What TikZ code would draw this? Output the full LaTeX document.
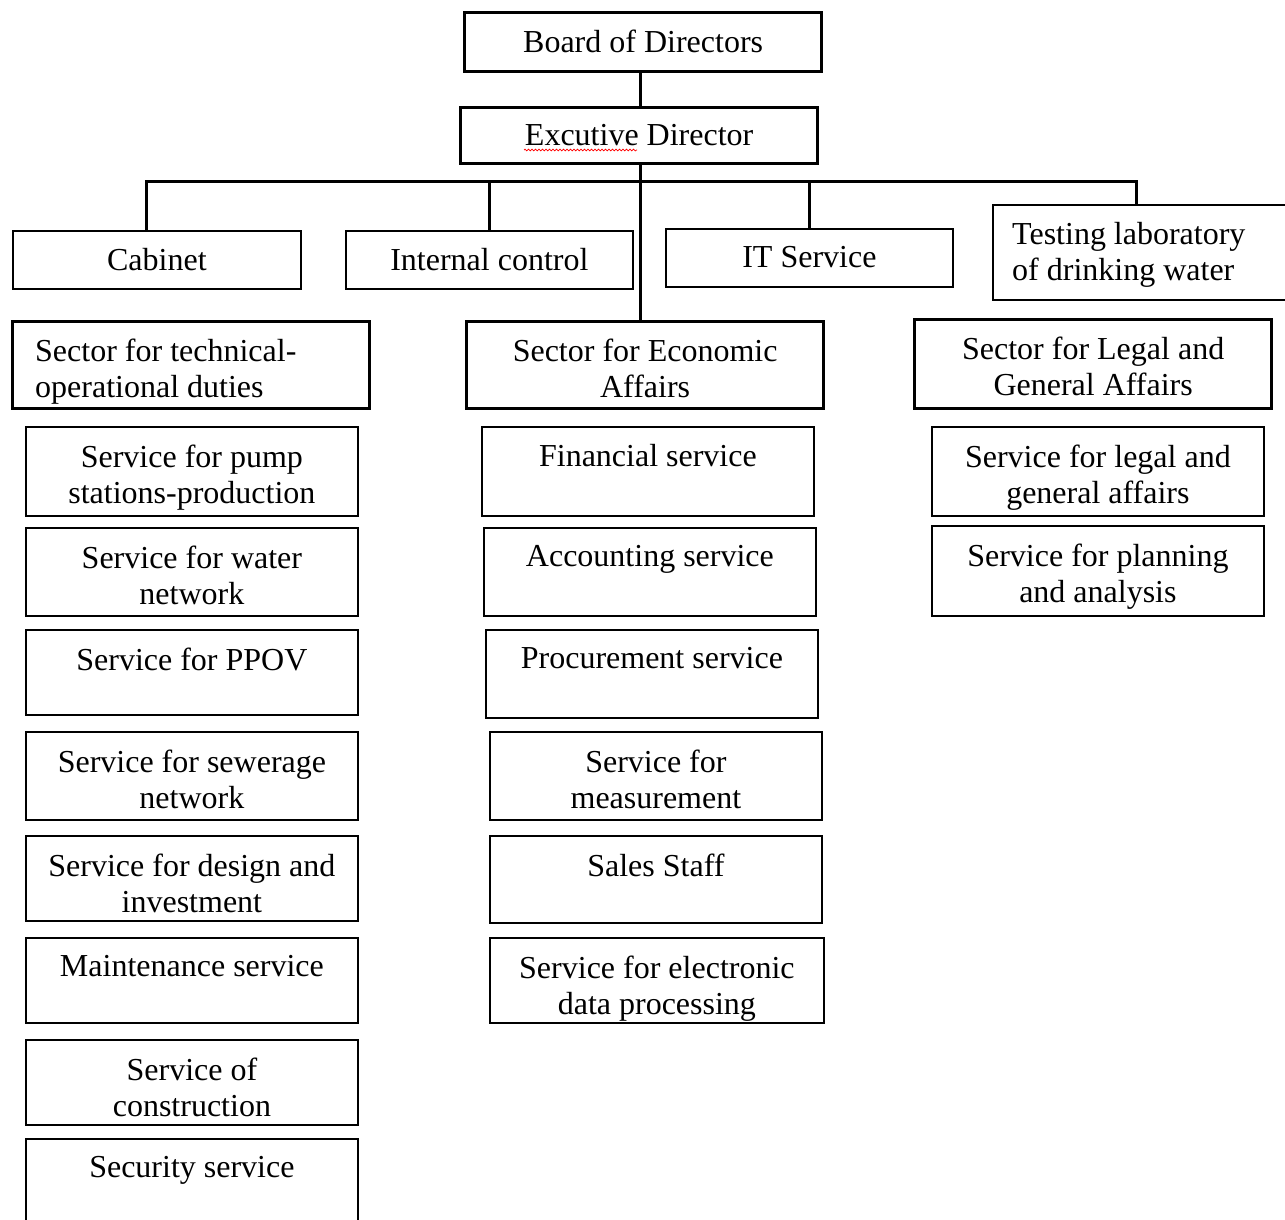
\documentclass[tikz,border=0pt]{standalone}
\usepackage{fontspec}
\setmainfont{Liberation Serif}
\usetikzlibrary{decorations.pathmorphing}

\begin{document}
\begin{tikzpicture}[x=1pt, y=-1pt,
    font=\fontsize{32}{36}\selectfont,
    unit/.style={draw, line width=1.8pt, anchor=north west, inner sep=0pt},
    sector/.style={unit, line width=3.3pt},
    lbl/.style={anchor=north, yshift=-18.5pt, inner sep=0pt, align=center},
    lbll/.style={anchor=north west, yshift=-18.5pt, inner sep=0pt, align=left},
    link/.style={line width=3pt}]
            \useasboundingbox (0,0) rectangle (1285,1220);
            \clip (0,0) rectangle (1285,1220);
            % top of the chart
            \node[sector, minimum width=357pt, minimum height=59pt, label={[lbl]north:Board of Directors}] (board) at (463,11) {};
            \node[sector, minimum width=357pt, minimum height=56pt, label={[lbl]north:Excutive Director}] (exec) at (459,106) {};
            \draw [red, line width=0.7pt, decorate, decoration={snake, amplitude=0.9pt, segment length=3.5pt}] (524,150) -- (637,150);
            % staff units
            \node[unit, minimum width=288pt, minimum height=58pt, label={[lbl]north:Cabinet}] (cabinet) at (12,230) {};
            \node[unit, minimum width=287pt, minimum height=58pt, label={[lbl]north:Internal control}] (intctrl) at (345,230) {};
            \node[unit, minimum width=287pt, minimum height=58pt, label={[lbl]north:IT Service}] (itserv) at (665,228) {};
            \node[unit, minimum width=320pt, minimum height=95pt, label={[lbll, xshift=20pt]north west:Testing laboratory\\of drinking water}] (testlab) at (992,204) {};
            % sectors
            \node[sector, minimum width=357pt, minimum height=87pt, label={[lbll, xshift=24pt]north west:Sector for technical-\\operational duties}] (sectech) at (11,320) {};
            \node[sector, minimum width=357pt, minimum height=87pt, label={[lbl]north:Sector for Economic\\Affairs}] (sececon) at (465,320) {};
            \node[sector, minimum width=357pt, minimum height=89pt, label={[lbl]north:Sector for Legal and\\General Affairs}] (seclegal) at (913,318) {};
            % technical services
            \node[unit, minimum width=332pt, minimum height=89pt, label={[lbl]north:Service for pump\\stations-production}] (pump) at (25,426) {};
            \node[unit, minimum width=332pt, minimum height=88pt, label={[lbl]north:Service for water\\network}] (water) at (25,527) {};
            \node[unit, minimum width=332pt, minimum height=85pt, label={[lbl]north:Service for PPOV}] (ppov) at (25,629) {};
            \node[unit, minimum width=332pt, minimum height=88pt, label={[lbl]north:Service for sewerage\\network}] (sewer) at (25,731) {};
            \node[unit, minimum width=332pt, minimum height=85pt, label={[lbl]north:Service for design and\\investment}] (design) at (25,835) {};
            \node[unit, minimum width=332pt, minimum height=85pt, label={[lbl]north:Maintenance service}] (maint) at (25,937) {};
            \node[unit, minimum width=332pt, minimum height=85pt, label={[lbl]north:Service of\\construction}] (constr) at (25,1039) {};
            \node[unit, minimum width=332pt, minimum height=100pt, label={[lbl]north:Security service}] (secur) at (25,1138) {};
            % economic services
            \node[unit, minimum width=332pt, minimum height=89pt, label={[lbl]north:Financial service}] (fin) at (481,426) {};
            \node[unit, minimum width=332pt, minimum height=88pt, label={[lbl]north:Accounting service}] (acc) at (483,527) {};
            \node[unit, minimum width=332pt, minimum height=88pt, label={[lbl]north:Procurement service}] (proc) at (485,629) {};
            \node[unit, minimum width=332pt, minimum height=88pt, label={[lbl]north:Service for\\measurement}] (meas) at (489,731) {};
            \node[unit, minimum width=332pt, minimum height=87pt, label={[lbl]north:Sales Staff}] (sales) at (489,835) {};
            \node[unit, minimum width=334pt, minimum height=85pt, label={[lbl]north:Service for electronic\\data processing}] (edp) at (489,937) {};
            % legal services
            \node[unit, minimum width=332pt, minimum height=89pt, label={[lbl]north:Service for legal and\\general affairs}] (legal) at (931,426) {};
            \node[unit, minimum width=332pt, minimum height=90pt, label={[lbl]north:Service for planning\\and analysis}] (plan) at (931,525) {};
            % connectors
            \coordinate (hub) at (640,181);
            \coordinate (busL) at (146,181);
            \coordinate (busR) at (1136,181);
            \draw [link] (board.south -| hub) -- (exec.north -| hub);
            \draw [link] (exec.south -| hub) -- (sececon.north -| hub);
            \draw [link] (cabinet.north -| busL) -- (busL) -- (busR) -- (testlab.north -| busR);
            \draw [link] (intctrl.north) -- (intctrl.north |- hub);
            \draw [link] (itserv.north) -- (itserv.north |- hub);
\end{tikzpicture}
\end{document}
